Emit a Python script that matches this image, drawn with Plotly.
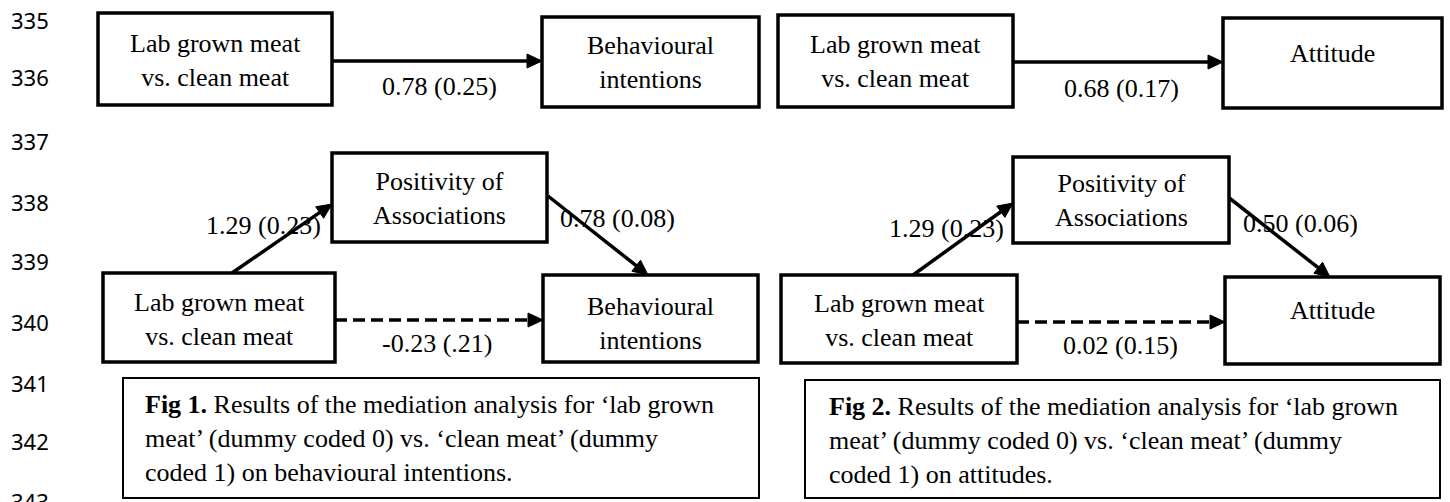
import math
import plotly.graph_objects as go

W, H = 1450, 502

# ---------------- data (text content) ----------------
line_numbers = ["335", "336", "337", "338", "339", "340", "341", "342", "343"]

fig1_nodes = ["Lab grown meat<br>vs. clean meat", "Behavioural<br>intentions",
              "Positivity of<br>Associations",
              "Lab grown meat<br>vs. clean meat", "Behavioural<br>intentions"]
fig2_nodes = ["Lab grown meat<br>vs. clean meat", "Attitude",
              "Positivity of<br>Associations",
              "Lab grown meat<br>vs. clean meat", "Attitude"]

fig1_paths = ["0.78 (0.25)", "1.29 (0.23)", "0.78 (0.08)", "-0.23 (.21)"]
fig2_paths = ["0.68 (0.17)", "1.29 (0.23)", "0.50 (0.06)", "0.02 (0.15)"]

captions = [
    "<b>Fig 1.</b> Results of the mediation analysis for \u2018lab grown<br>"
    "meat\u2019 (dummy coded 0) vs. \u2018clean meat\u2019 (dummy<br>"
    "coded 1) on behavioural intentions.",
    "<b>Fig 2.</b> Results of the mediation analysis for \u2018lab grown<br>"
    "meat\u2019 (dummy coded 0) vs. \u2018clean meat\u2019 (dummy<br>"
    "coded 1) on attitudes.",
]

# ---------------- layout (positions / styles) ----------------
num_y = [20, 77, 141, 202, 261, 322, 383, 441, 501]

# box: x0, y0, x1, y1, text centre y
fig1_boxes = [(98, 13, 332, 105, 60), (542, 17, 759, 107, 62),
              (332, 153, 547, 242, 198),
              (103, 273, 335, 362, 319), (543, 275, 758, 362, 323)]
fig2_boxes = [(778, 15, 1013, 107, 61), (1223, 18, 1442, 108, 53),
              (1013, 157, 1229, 243, 200),
              (781, 275, 1017, 363, 320), (1225, 277, 1440, 364, 310)]

# arrows: x0, y0, x1 (tip), y1 (tip), dashed
fig1_arrows = [(332, 61, 542, 61, False), (232, 273, 332, 204, False),
               (548, 196, 648, 275, False), (335, 320, 543, 320, True)]
fig2_arrows = [(1013, 62, 1223, 62, False), (913, 275, 1013, 203, False),
               (1228, 197, 1330, 277, False), (1017, 322, 1225, 322, True)]

# label centres
fig1_label_pos = [(439, 86), (263, 225), (617, 218), (437, 343)]
fig2_label_pos = [(1121, 88), (946, 228), (1300, 223), (1120, 345)]

caption_boxes = [(123, 378, 759, 498), (805, 380, 1440, 498)]
caption_text_pos = [(143, 438), (827, 440)]

SERIF = "Times New Roman, Liberation Serif, DejaVu Serif, serif"
FS = 26

shapes = []
annotations = []

def add_box(b, text):
    x0, y0, x1, y1, ty = b
    shapes.append(dict(type="rect", xref="x", yref="y", x0=x0, y0=y0, x1=x1, y1=y1,
                       line=dict(color="black", width=3.5), fillcolor="white"))
    annotations.append(dict(x=(x0 + x1) / 2, y=ty, xref="x", yref="y", text=text,
                            showarrow=False, xanchor="center", yanchor="middle",
                            font=dict(family=SERIF, size=FS, color="black")))

def add_arrow(a):
    x0, y0, x1, y1, dashed = a
    L, Wd = 15, 14
    dx, dy = x1 - x0, y1 - y0
    n = math.hypot(dx, dy)
    ux, uy = dx / n, dy / n
    bx, by = x1 - L * ux, y1 - L * uy
    px, py = -uy, ux
    ex, ey = x1 - L * 0.6 * ux, y1 - L * 0.6 * uy
    shapes.append(dict(type="line", xref="x", yref="y", x0=x0, y0=y0, x1=ex, y1=ey,
                       line=dict(color="black", width=3.5,
                                 dash="12px,6px" if dashed else "solid")))
    path = (f"M {x1},{y1} L {bx + px * Wd / 2},{by + py * Wd / 2} "
            f"L {bx - px * Wd / 2},{by - py * Wd / 2} Z")
    shapes.append(dict(type="path", xref="x", yref="y", path=path,
                       line=dict(color="black", width=1), fillcolor="black"))

for nodes, boxes, paths, arrows, lpos in [
        (fig1_nodes, fig1_boxes, fig1_paths, fig1_arrows, fig1_label_pos),
        (fig2_nodes, fig2_boxes, fig2_paths, fig2_arrows, fig2_label_pos)]:
    for a in arrows:
        add_arrow(a)
    for b, t in zip(boxes, nodes):
        add_box(b, t)
    for (lx, ly), t in zip(lpos, paths):
        annotations.append(dict(x=lx, y=ly, xref="x", yref="y", text=t,
                                showarrow=False, xanchor="center", yanchor="middle",
                                font=dict(family=SERIF, size=FS, color="black")))

for (x0, y0, x1, y1), (tx, ty), cap in zip(caption_boxes, caption_text_pos, captions):
    shapes.append(dict(type="rect", xref="x", yref="y", x0=x0, y0=y0, x1=x1, y1=y1,
                       line=dict(color="black", width=2), fillcolor="white"))
    annotations.append(dict(x=tx, y=ty, xref="x", yref="y", text=cap, align="left",
                            showarrow=False, xanchor="left", yanchor="middle",
                            font=dict(family=SERIF, size=FS, color="black")))

for t, y in zip(line_numbers, num_y):
    annotations.append(dict(x=30, y=y, xref="x", yref="y", text=t, showarrow=False,
                            xanchor="center", yanchor="middle",
                            font=dict(family="Noto Sans", size=22, color="black")))

fig = go.Figure()
fig.update_layout(
    width=W, height=H, margin=dict(l=0, r=0, t=0, b=0),
    paper_bgcolor="white", plot_bgcolor="white",
    xaxis=dict(range=[0, W], visible=False, fixedrange=True),
    yaxis=dict(range=[H, 0], visible=False, fixedrange=True),
    shapes=shapes, annotations=annotations, showlegend=False,
)
fig.write_html("out.html", config={"displayModeBar": False},
               post_script="document.body.style.margin='0';document.body.style.overflow='hidden';")
